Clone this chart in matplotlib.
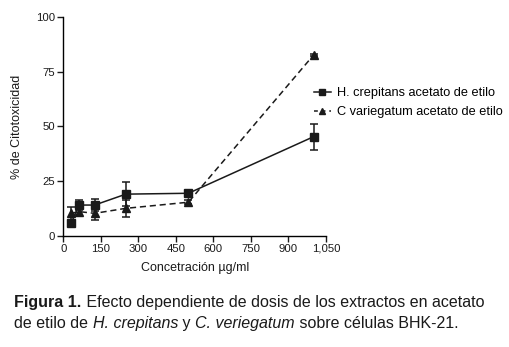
import matplotlib.pyplot as plt
from matplotlib.lines import Line2D

plt.rcParams['font.family'] = ['Liberation Sans', 'DejaVu Sans']

# data
conc = [31.25, 62.5, 125, 250, 500, 1000]
hc_mean = [5.7, 14.0, 14.0, 19.0, 19.4, 45.3]
hc_err = [1.5, 2.3, 2.8, 5.4, 1.0, 6.0]
cv_mean = [10.2, 11.0, 10.2, 12.5, 15.3, 82.7]
cv_err = [3.1, 1.5, 3.0, 3.8, 1.0, 0.5]

xticks = [0, 150, 300, 450, 600, 750, 900, 1050]
xticklabels = ['0', '150', '300', '450', '600', '750', '900', '1,050']
yticks = [0, 25, 50, 75, 100]
labels = ['H. crepitans acetato de etilo', 'C variegatum acetato de etilo']

fig = plt.figure(figsize=(5.09, 3.47), dpi=100)
ax = fig.add_axes([0.1244, 0.321, 0.5161, 0.629])

dash = (0, (4, 2.5))
ax.errorbar(conc, hc_mean, yerr=hc_err, color='#1a1a1a', marker='s', markersize=6,
            linestyle='-', linewidth=1.1, capsize=3, elinewidth=1.1, capthick=1.1,
            zorder=3)
ax.errorbar(conc, cv_mean, yerr=cv_err, color='#1a1a1a', marker='^', markersize=5.5,
            linestyle=dash, linewidth=1.1, capsize=3, elinewidth=1.1,
            capthick=1.1, zorder=3)

ax.set_xlim(0, 1050)
ax.set_ylim(0, 100)
ax.set_xticks(xticks)
ax.set_xticklabels(xticklabels)
ax.set_yticks(yticks)
ax.spines['top'].set_visible(False)
ax.spines['right'].set_visible(False)
for s in ['left', 'bottom']:
    ax.spines[s].set_linewidth(1.0)
ax.tick_params(direction='out', length=4, width=1.0, labelsize=8.2, colors='#1a1a1a', pad=2)

ax.set_xlabel('Concetración µg/ml', fontsize=9, color='#1a1a1a', labelpad=6)
ax.set_ylabel('% de Citotoxicidad', fontsize=9, color='#1a1a1a', labelpad=9)

handles = [Line2D([], [], color='#1a1a1a', marker='s', markersize=5, linewidth=1.1),
           Line2D([], [], color='#1a1a1a', marker='^', markersize=4.5, linewidth=1.1,
                  linestyle=(0, (2.5, 2.5)))]
ax.legend(handles, labels, loc='upper left', bbox_to_anchor=(0.93, 0.71), frameon=False,
          fontsize=9.2, handlelength=1.3, handletextpad=0.5, labelspacing=0.55,
          borderpad=0)

# caption with mixed styles
kw = dict(fontsize=11.5, color='#1a1a1a')
t = fig.text(0.028, 0.115, 'Figura 1.', fontweight='bold', va='baseline', **kw)
t = ax.annotate(' Efecto dependiente de dosis de los extractos en acetato', xy=(1, 0),
                xycoords=t, va='bottom', ha='left', annotation_clip=False, **kw)
t = fig.text(0.028, 0.055, 'de etilo de ', va='baseline', **kw)
t = ax.annotate('H. crepitans', xy=(1, 0), xycoords=t, va='bottom', style='italic',
                annotation_clip=False, **kw)
t = ax.annotate(' y ', xy=(1, 0), xycoords=t, va='bottom', annotation_clip=False, **kw)
t = ax.annotate('C. veriegatum', xy=(1, 0), xycoords=t, va='bottom', style='italic',
                annotation_clip=False, **kw)
t = ax.annotate(' sobre células BHK-21.', xy=(1, 0), xycoords=t, va='bottom',
                annotation_clip=False, **kw)

fig.savefig('out.png', dpi=100)
